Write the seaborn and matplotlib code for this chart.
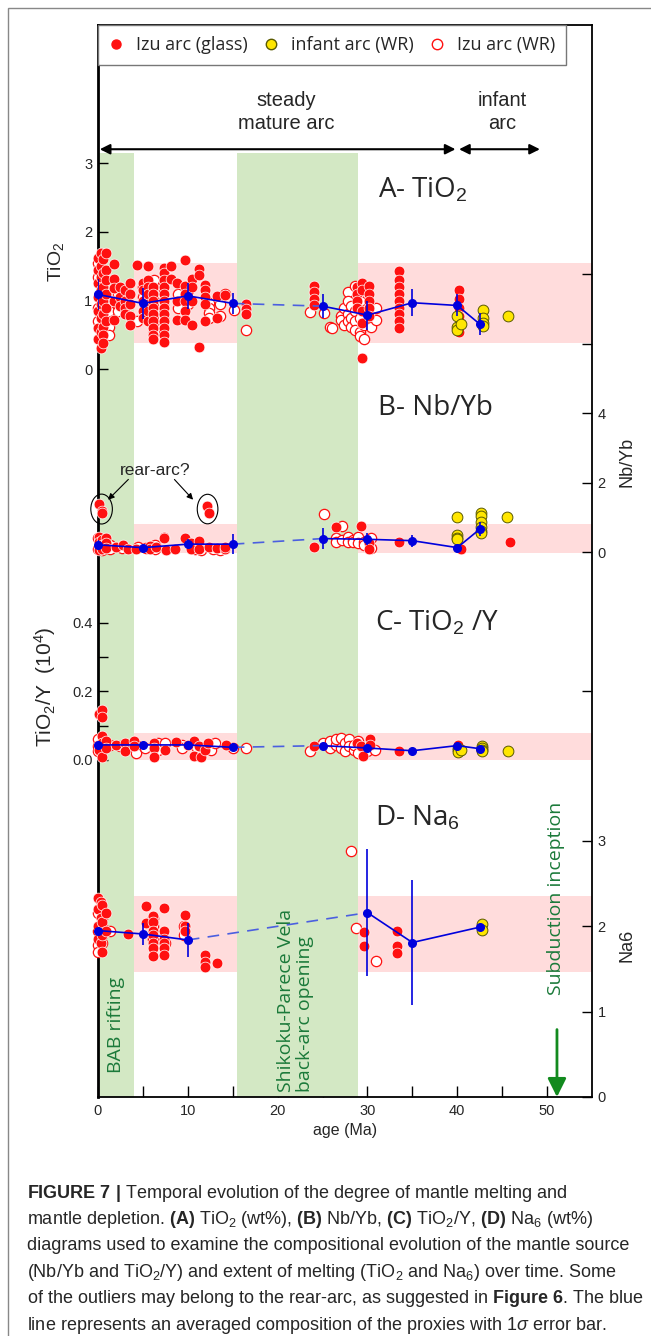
import numpy as np
import pandas as pd
import matplotlib
matplotlib.use("Agg")
import matplotlib.pyplot as plt
import matplotlib.transforms as mtransforms
from matplotlib.patches import Rectangle, Ellipse
from matplotlib.lines import Line2D
import seaborn as sns

# ---------------- data ----------------
# A - TiO2 (wt%)
a_glass_age = [0.0]*7 + [0.3]*8 + [0.6]*8 + [0.9]*6 + [1.8]*5 + [2.5]*3 + [3.0]*4 + [3.6]*5 + [4.3] \
    + [5.0]*5 + [5.6]*7 + [6.1]*9 + [7.3]*12 + [8.1]*2 + [8.8]*3 + [9.7]*6 + [10.5]*4 + [11.2]*3 \
    + [11.9]*5 + [13.3]*2 + [14.1] + [16.5]*3 + [24.1]*4 + [28.8]*4 + [29.4]*5 + [30.2]*5 + [33.5]*9 + [40.2]*5
a_glass_tio2 = [1.62, 1.45, 1.25, 1.05, 0.85, 0.6, 0.45,
                1.69, 1.5, 1.35, 1.15, 0.95, 0.75, 0.55, 0.31,
                1.6, 1.4, 1.2, 1.0, 0.8, 0.62, 0.5, 0.38,
                1.69, 1.45, 1.3, 1.1, 0.9, 0.7,
                1.53, 1.31, 1.18, 1.0, 0.72,
                1.2, 1.05, 0.92,
                1.15, 1.0, 0.9, 0.8,
                1.26, 1.1, 0.95, 0.78, 0.65,
                1.52,
                1.25, 1.15, 1.0, 0.85, 0.75,
                1.5, 1.3, 1.2, 1.1, 0.95, 0.85, 0.7,
                1.2, 1.1, 1.0, 0.9, 0.8, 0.7, 0.6, 0.5, 0.45,
                1.48, 1.4, 1.3, 1.2, 1.1, 1.0, 0.9, 0.8, 0.7, 0.6, 0.5, 0.4,
                1.5, 1.32,
                1.25, 1.0, 0.72,
                1.59, 1.22, 1.1, 1.0, 0.85, 0.72,
                1.32, 1.2, 1.0, 0.65,
                1.46, 1.38, 0.33,
                1.23, 1.15, 1.05, 0.95, 0.7,
                1.07, 0.75,
                1.08,
                0.95, 0.88, 0.8,
                1.22, 1.13, 1.03, 0.93,
                1.2, 1.1, 1.0, 0.9,
                1.25, 1.15, 0.85, 0.68, 0.17,
                1.22, 1.1, 1.0, 0.9, 0.78,
                1.43, 1.3, 1.2, 1.1, 1.0, 0.9, 0.8, 0.7, 0.6,
                1.15, 1.02, 0.9, 0.78, 0.55]
a_wr_age = [0.0]*4 + [0.4]*5 + [1.2]*5 + [2.2]*3 + [4.3] + [5.0]*2 + [6.2]*6 + [7.2]*3 + [8.9]*2 \
    + [10.0]*2 + [12.4]*4 + [13.6]*2 + [14.1] + [15.1] + [16.5] + [23.6] + [25.2] + [25.8] + [26.1] \
    + [27.0]*2 + [27.4]*2 + [27.8]*4 + [28.2]*3 + [28.6]*4 + [29.2]*4 + [29.6]*2 + [30.4] + [31.0]*2
a_wr_tio2 = [1.55, 1.35, 0.9, 0.7,
             1.45, 1.2, 1.05, 0.8, 0.6,
             1.1, 0.95, 0.85, 0.62, 0.5,
             1.1, 0.95, 0.85,
             0.7,
             1.2, 1.05,
             1.3, 1.15, 1.0, 0.85, 0.7, 0.55,
             1.2, 0.95, 0.75,
             1.1, 0.9,
             1.15, 0.95,
             0.97, 0.9, 0.82, 0.75,
             0.95, 0.78,
             1.1, 0.86, 0.58, 0.83, 0.82, 0.62, 0.6,
             0.78, 0.72,
             0.9, 0.65,
             1.12, 1.0, 0.8, 0.7,
             0.92, 0.75, 0.62,
             1.22, 0.85, 0.7, 0.58,
             1.0, 0.75, 0.55, 0.48,
             0.65, 0.45,
             0.62,
             0.9, 0.72]
a_inf_age = [40.0, 40.0, 40.0, 40.4, 42.9, 42.9, 42.9, 42.9, 45.6]
a_inf_tio2 = [0.77, 0.62, 0.57, 0.66, 0.87, 0.75, 0.68, 0.63, 0.78]

# B - Nb/Yb
b_glass_age = [0.1]*5 + [0.5]*5 + [0.9]*3 + [2.0, 2.8, 3.3, 4.2] + [5.8]*2 + [6.5] + [7.3]*2 + [7.6, 8.6, 9.7] \
    + [10.4]*2 + [11.3]*2 + [12.1] + [12.4]*2 + [13.3] + [14.1]*2 + [24.1, 26.5, 29.3] + [30.2]*2 + [33.5, 40.4, 45.9]
b_glass_nbyb = [1.38, 0.45, 0.3, 0.15, 0.05,
                1.17, 1.12, 0.35, 0.2, 0.1,
                0.4, 0.25, 0.12,
                0.15, 0.2, 0.1, 0.08,
                0.18, 0.1, 0.15, 0.45, 0.4, 0.07, 0.1, 0.4,
                0.25, 0.1, 0.32, 0.1, 1.33, 1.14, 0.15, 0.12, 0.08, 0.15,
                0.16, 0.73, 0.75, 0.25, 0.1, 0.3, 0.1, 0.28]
b_wr_age = [0.0]*2 + [0.5]*2 + [1.3]*2 + [2.7, 4.4, 5.3] + [6.4]*2 + [10.8, 11.5, 12.8, 13.6, 25.2] \
    + [26.5]*2 + [27.2]*2 + [27.8]*2 + [28.4]*2 + [28.9]*2 + [29.6]*2 + [30.4]*2
b_wr_nbyb = [0.4, 0.1, 0.3, 0.05, 0.2, 0.1, 0.12, 0.15, 0.12, 0.2, 0.1,
             0.1, 0.05, 0.08, 0.05, 1.11,
             0.4, 0.3, 0.75, 0.35, 0.45, 0.3, 0.35, 0.3, 0.45, 0.25, 0.3, 0.2, 0.4, 0.12]
b_inf_age = [40.0]*4 + [42.6]*6 + [45.5]
b_inf_nbyb = [1.02, 0.48, 0.42, 0.38, 1.12, 1.05, 0.88, 0.72, 0.62, 0.55, 1.02]

# C - TiO2/Y (10^4)
c_glass_age = [0.1]*3 + [0.5]*5 + [0.9]*2 + [2.0] + [3.0]*2 + [4.0]*2 + [6.2]*3 + [7.5, 8.7, 10.0] \
    + [10.7]*2 + [11.3, 11.5, 11.9, 12.2, 14.2, 24.1, 28.8, 29.3, 29.5] + [30.3]*2 + [33.5, 40.1]
c_glass_tiy = [0.135, 0.045, 0.03, 0.145, 0.125, 0.07, 0.05, 0.01, 0.055, 0.035,
               0.045, 0.05, 0.025, 0.055, 0.04, 0.05, 0.035, 0.008, 0.03, 0.052, 0.045,
               0.055, 0.013, 0.04, 0.008, 0.03, 0.05, 0.045, 0.04, 0.05, 0.04, 0.013,
               0.06, 0.045, 0.025, 0.045]
c_wr_age = [0.0]*3 + [0.4]*2 + [1.3, 2.5] + [4.2]*2 + [5.2] + [6.7]*2 + [7.5] + [9.3]*2 + [11.0] + [12.6]*2 \
    + [13.0, 15.0, 16.5, 23.6, 25.0] + [25.8]*2 + [26.5]*2 + [27.0]*2 + [27.5]*2 + [28.0]*2 + [28.5]*2 \
    + [29.0]*2 + [30.0]*2 + [30.8]
c_wr_tiy = [0.06, 0.04, 0.025, 0.05, 0.03, 0.045, 0.04, 0.045, 0.02, 0.035, 0.05, 0.03, 0.05,
            0.045, 0.035, 0.035, 0.04, 0.03, 0.05, 0.035, 0.035, 0.025, 0.05,
            0.035, 0.055, 0.045, 0.06, 0.065, 0.035, 0.05, 0.025, 0.06, 0.04, 0.03, 0.045,
            0.055, 0.02, 0.035, 0.025, 0.03]
c_inf_age = [40.1]*3 + [40.4] + [42.8]*4 + [45.6]
c_inf_tiy = [0.035, 0.028, 0.022, 0.03, 0.04, 0.035, 0.03, 0.025, 0.025]

# D - Na6 (wt%)
d_glass_age = [0.0]*4 + [0.3]*4 + [0.5]*4 + [0.9]*2 + [3.3] + [5.3]*2 + [6.1]*7 + [7.3]*6 + [9.7]*3 \
    + [11.9]*3 + [13.3] + [29.6]*2 + [33.3]*3
d_glass_na6 = [2.33, 2.2, 2.0, 1.85, 2.28, 2.1, 1.95, 1.8, 2.25, 2.05, 1.9, 1.7, 2.15, 1.95,
               1.91, 2.24, 2.04, 2.12, 2.05, 1.95, 1.9, 1.8, 1.75, 1.65,
               2.21, 1.95, 1.85, 1.8, 1.75, 1.66, 2.13, 2.0, 1.95,
               1.66, 1.58, 1.52, 1.57, 1.93, 1.77, 1.94, 1.77, 1.69]
d_wr_age = [0.0]*4 + [0.4]*5 + [1.3] + [6.1]*4 + [7.5] + [9.6]*2 + [28.2, 28.7, 31.0]
d_wr_na6 = [2.15, 1.95, 1.78, 1.7, 2.2, 2.1, 2.0, 1.9, 1.8, 1.94, 2.1, 2.0, 1.9, 1.85, 1.8,
            2.0, 1.9, 2.88, 1.98, 1.59]
d_inf_age = [42.7, 42.7]
d_inf_na6 = [2.03, 1.96]

# averaged composition (blue line) with 1 sigma
mean_age = [0, 5, 10, 15, 25, 30, 35, 40, 42.5]
a_mean = [1.09, 0.96, 1.07, 0.96, 0.92, 0.79, 0.97, 0.93, 0.66]
a_sd = [0.23, 0.22, 0.19, 0.15, 0.17, 0.21, 0.20, 0.16, 0.16]
b_mean = [0.21, 0.13, 0.23, 0.23, 0.39, 0.37, 0.33, 0.13, 0.66]
b_sd = [0.15, 0.08, 0.15, 0.28, 0.31, 0.17, 0.17, 0.05, 0.20]
c_mean = [0.044, 0.044, 0.044, 0.037, 0.042, 0.035, 0.027, 0.042, 0.033]
c_sd = [0.010, 0.008, 0.008, 0.010, 0.008, 0.008, 0.004, 0.006, 0.006]
d_mean_age = [0, 5, 10, 30, 35, 42.5]
d_mean = [1.95, 1.91, 1.84, 2.16, 1.81, 1.99]
d_sd = [0.04, 0.13, 0.20, 0.74, 0.73, 0.03]

# ranges of the pink bands and green periods
a_band = (0.39, 1.55)
b_band = (-0.03, 0.82)
c_band = (0.0, 0.078)
d_band = (1.46, 2.35)
bab_period = (0, 4)
spv_period = (15.5, 29)

# ---------------- style ----------------
sns.set_theme(style="white")
plt.rcParams['font.family'] = ['Liberation Sans', 'DejaVu Sans']
plt.rcParams['mathtext.fontset'] = 'custom'
plt.rcParams['mathtext.rm'] = 'Liberation Sans'
plt.rcParams['mathtext.it'] = 'Liberation Sans:italic'
plt.rcParams['mathtext.bf'] = 'Liberation Sans:bold'

RED = '#ff1010'
YEL = '#ffe600'
BLUE = '#0000dd'
GREEN_BAND = '#d3e8c4'
PINK = '#ffdcdc'
GTXT = '#1b7a3a'
OPEN = ['Open Sans', 'DejaVu Sans']

fig = plt.figure(figsize=(6.51, 13.36), dpi=100)
W, H = 651, 1336
L, R, T, B = 98, 592, 25, 1097
ax = fig.add_axes([L / W, 1 - B / H, (R - L) / W, (B - T) / H])
ax.set_xlim(0, 55)
ax.set_ylim(0, 1)
ax.set_yticks([])

axA = ax.twinx()
axB = ax.twinx()
axC = ax.twinx()
axD = ax.twinx()
lims = {axA: (-10.57, 5.005), axB: (-15.68, 15.17), axC: (-0.984, 2.146), axD: (0, 12.56)}
for a, lim in lims.items():
    a.set_ylim(*lim)

for a in [axA, axB, axC, axD]:
    for s in a.spines.values():
        s.set_visible(False)
for s in ax.spines.values():
    s.set_color('black')
    s.set_linewidth(1.3)
ax.spines['left'].set_linewidth(2)

# pink bands (drawn in main axes, y taken from each panel scale)
for tw, (lo, hi) in [(axA, a_band), (axB, b_band), (axC, c_band), (axD, d_band)]:
    trans = mtransforms.blended_transform_factory(ax.transAxes, tw.transData)
    ax.add_patch(Rectangle((0, lo), 1, hi - lo, transform=trans, facecolor=PINK,
                           edgecolor='none', zorder=0))
ax.set_ylim(0, 1)
# green periods
for lo, hi in [bab_period, spv_period]:
    ax.axvspan(lo, hi, ymin=0, ymax=0.881, color=GREEN_BAND, lw=0, zorder=1)

# x axis
ax.set_xticks(range(0, 51, 10))
ax.set_xticks(range(5, 51, 10), minor=True)
ax.tick_params(axis='x', which='both', direction='in', length=8, width=1, color='black',
               labelsize=10.5, pad=5, bottom=True, top=False)
ax.set_xlabel('age (Ma)', fontsize=11.5, labelpad=4)

# y axes
axA.yaxis.tick_left()
axA.yaxis.set_label_position('left')
axA.set_yticks([0, 1, 2, 3])
axC.yaxis.tick_left()
axC.yaxis.set_label_position('left')
axC.set_yticks([0, 0.1, 0.2, 0.3, 0.4])
axC.set_yticklabels(['0.0', '', '0.2', '', '0.4'])
axB.set_yticks([-4, 0, 2, 4, 6, 8])
axB.set_yticklabels(['', '0', '2', '4', '', ''])
axD.set_yticks([0, 1, 2, 3])
for a in [axA, axB, axC, axD]:
    a.tick_params(axis='y', direction='in', length=7, width=1, color='black',
                  labelsize=10.5, pad=4)
    a.grid(False)

# axis titles, centred on the positions (pixels)
for a, text, size, xpx, ypx in [(axA, 'TiO$_2$', 14, 56, 262),
                                (axC, 'TiO$_2$/Y  (10$^4$)', 15, 45, 687),
                                (axB, 'Nb/Yb', 13, 627, 462),
                                (axD, 'Na6', 13, 627, 945)]:
    a.set_ylabel(text, fontsize=size, rotation=90)
    a.yaxis.label.set_verticalalignment('center')
    a.yaxis.label.set_rotation_mode('anchor')
    a.yaxis.set_label_coords((xpx - L) / (R - L), (B - ypx) / (B - T))

# ---------------- points ----------------
panels = [
    (axA, a_glass_age, a_glass_tio2, a_wr_age, a_wr_tio2, a_inf_age, a_inf_tio2),
    (axB, b_glass_age, b_glass_nbyb, b_wr_age, b_wr_nbyb, b_inf_age, b_inf_nbyb),
    (axC, c_glass_age, c_glass_tiy, c_wr_age, c_wr_tiy, c_inf_age, c_inf_tiy),
    (axD, d_glass_age, d_glass_na6, d_wr_age, d_wr_na6, d_inf_age, d_inf_na6),
]
for tw, ga, gv, wa, wv, ia, iv in panels:
    sns.scatterplot(x=wa, y=wv, ax=tw, color='white', edgecolor=RED, linewidth=0.9,
                    s=55, zorder=3, legend=False, clip_on=False)
    sns.scatterplot(x=ga, y=gv, ax=tw, color=RED, edgecolor='white', linewidth=0.5,
                    s=60, zorder=4, legend=False, clip_on=False)
    sns.scatterplot(x=ia, y=iv, ax=tw, color=YEL, edgecolor='#5a5a00', linewidth=0.7,
                    s=60, zorder=5, legend=False, clip_on=False)


def mean_line(tw, xs, ys, sd, gap):
    tw.errorbar(xs, ys, yerr=sd, fmt='none', ecolor=BLUE, elinewidth=1.2, zorder=6)
    tw.plot(xs[:gap + 1], ys[:gap + 1], color=BLUE, lw=1.2, zorder=6)
    tw.plot(xs[gap + 1:], ys[gap + 1:], color=BLUE, lw=1.2, zorder=6)
    tw.plot(xs[gap:gap + 2], ys[gap:gap + 2], color='#4b5fe0', lw=1.2,
            ls=(0, (7, 5)), zorder=6)
    tw.plot(xs, ys, ls='', marker='o', ms=5.5, color=BLUE, zorder=7, clip_on=False)


mean_line(axA, mean_age, a_mean, a_sd, 3)
mean_line(axB, mean_age, b_mean, b_sd, 3)
mean_line(axC, mean_age, c_mean, c_sd, 3)
mean_line(axD, d_mean_age, d_mean, d_sd, 2)

for a, lim in lims.items():
    a.set_xlim(0, 55)
    a.set_ylim(*lim)

# ---------------- annotations ----------------
axA.text(31.2, 2.61, 'A- TiO$_2$', fontsize=20, family=OPEN, va='center')
axB.text(31.2, 4.14, 'B- Nb/Yb', fontsize=20, family=OPEN, va='center')
axC.text(30.8, 0.40, 'C- TiO$_2$ /Y', fontsize=20, family=OPEN, va='center')
axD.text(30.8, 3.27, 'D- Na$_6$', fontsize=20, family=OPEN, va='center')

for x0, x1 in [(0.2, 39.8), (40.2, 49.2)]:
    axA.annotate('', xy=(x0, 3.2), xytext=(x1, 3.2),
                 arrowprops=dict(arrowstyle='<|-|>', color='black', lw=1.5, mutation_scale=15,
                                 shrinkA=0, shrinkB=0))
axA.text(21.0, 3.74, 'steady\nmature arc', fontsize=14.5, ha='center', va='center', linespacing=1.25)
axA.text(45.0, 3.74, 'infant\narc', fontsize=14.5, ha='center', va='center', linespacing=1.25)

axB.add_patch(Ellipse((0.4, 1.24), 2.4, 0.86, fill=False, edgecolor='black', lw=0.8,
                      zorder=8, clip_on=False))
axB.add_patch(Ellipse((12.2, 1.24), 2.3, 0.85, fill=False, edgecolor='black', lw=0.8,
                      zorder=8, clip_on=False))
axB.text(6.4, 2.35, 'rear-arc?', fontsize=12.5, ha='center', va='center')
axB.annotate('', xy=(0.9, 1.45), xytext=(3.6, 2.15),
             arrowprops=dict(arrowstyle='-|>', color='black', lw=0.8, mutation_scale=9))
axB.annotate('', xy=(10.8, 1.45), xytext=(8.3, 2.15),
             arrowprops=dict(arrowstyle='-|>', color='black', lw=0.8, mutation_scale=9))

axD.text(2.0, 0.28, 'BAB rifting', rotation=90, fontsize=14, family=OPEN, color=GTXT,
         ha='center', va='bottom')
axD.text(22.0, 0.06, 'Shikoku-Parece Vela\nback-arc opening', rotation=90, fontsize=14,
         family=OPEN, color=GTXT, ha='center', va='bottom', multialignment='left',
         linespacing=1.05)
axD.text(51.0, 1.2, 'Subduction inception', rotation=90, fontsize=14, family=OPEN,
         color=GTXT, ha='center', va='bottom')
axD.annotate('', xy=(51.1, 0.0), xytext=(51.1, 0.79),
             arrowprops=dict(arrowstyle='-|>', color='#128a1e', lw=2, mutation_scale=28,
                             shrinkA=0, shrinkB=0))

handles = [
    Line2D([], [], ls='', marker='o', ms=6.5, mfc=RED, mec=RED, label='Izu arc (glass)'),
    Line2D([], [], ls='', marker='o', ms=7.5, mfc=YEL, mec='#5a5a00', label='infant arc (WR)'),
    Line2D([], [], ls='', marker='o', ms=7.5, mfc='white', mec=RED, label='Izu arc (WR)'),
]
leg = axD.legend(handles=handles, loc='upper left', bbox_to_anchor=(0, 1), borderaxespad=0,
                 ncol=3, frameon=True, fancybox=False, framealpha=1, edgecolor='#777777',
                 prop={'family': OPEN, 'size': 13}, handlelength=0.8, handletextpad=0.7,
                 columnspacing=0.9, borderpad=0.6)
leg.get_frame().set_linewidth(1)
leg.set_zorder(20)

# outer border and caption
fig.add_artist(Rectangle((8 / W, -0.5), 2, 1.5 - 8 / H, transform=fig.transFigure,
                         fill=False, edgecolor='#888888', lw=1))
caption = [
    r"$\mathbf{FIGURE\ 7\ |}$ Temporal evolution of the degree of mantle melting and",
    r"mantle depletion. $\mathbf{(A)}$ TiO$_2$ (wt%), $\mathbf{(B)}$ Nb/Yb, $\mathbf{(C)}$ TiO$_2$/Y, $\mathbf{(D)}$ Na$_6$ (wt%)",
    "diagrams used to examine the compositional evolution of the mantle source",
    r"(Nb/Yb and TiO$_2$/Y) and extent of melting (TiO$_2$ and Na$_6$) over time. Some",
    r"of the outliers may belong to the rear-arc, as suggested in $\mathbf{Figure\ 6}$. The blue",
    r"line represents an averaged composition of the proxies with $\mathit{1\sigma}$ error bar.",
]
for i, line in enumerate(caption):
    fig.text(27 / W, 1 - (1193 + 26.4 * i) / H, line, fontsize=13, ha='left', va='center')

fig.savefig('out.png', dpi=100)
